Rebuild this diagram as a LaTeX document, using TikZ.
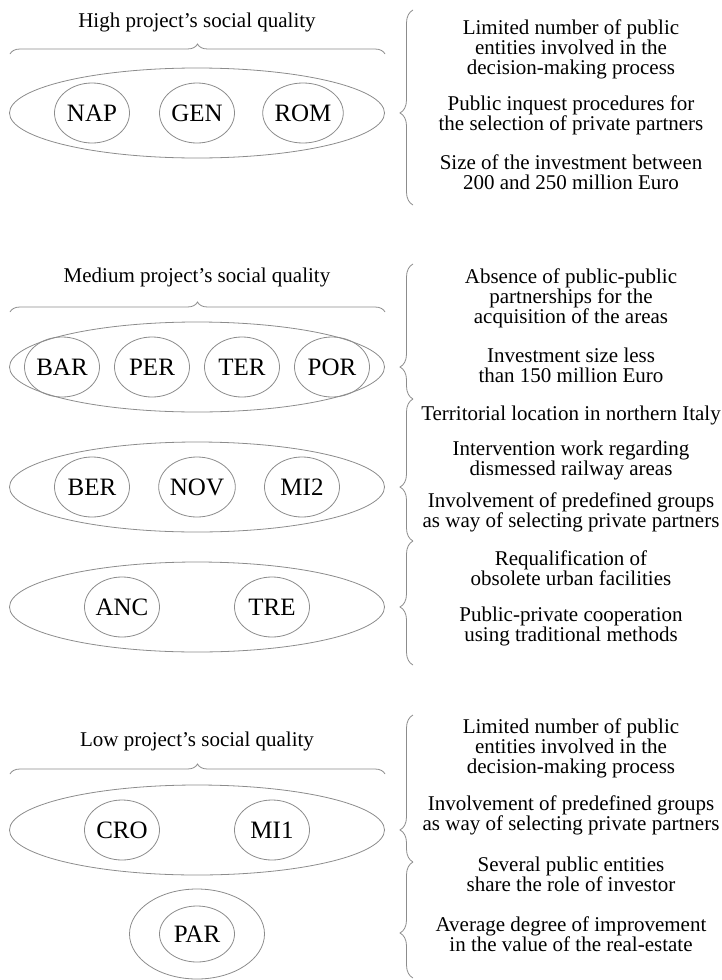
\documentclass[tikz,border=0pt]{standalone}
\usepackage{fontspec}
\setmainfont{Liberation Serif}
\usetikzlibrary{shapes.geometric, decorations.pathreplacing, positioning}

\begin{document}
\begin{tikzpicture}[x=1pt, y=-1pt,
  thinline/.style={draw=black!45, line width=0.8pt},
  bigring/.style={thinline, ellipse, minimum width=375pt, minimum height=90pt, inner sep=0pt},
  city/.style={thinline, ellipse, minimum width=75pt, minimum height=60pt, inner sep=0pt,
    font=\fontsize{25}{25}\selectfont},
  crit/.style={align=center, font=\fontsize{21}{20}\selectfont, inner sep=0pt},
  title/.style={font=\fontsize{21}{20}\selectfont, inner sep=0pt},
  topbrace/.style={thinline, decorate, decoration={brace, amplitude=10pt}},
  sidebrace/.style={thinline, decorate, decoration={brace, amplitude=13pt, aspect=#1}}]
  \useasboundingbox (0,0) rectangle (722,980);

  % --- HIGH ---
  \node[title] (hightitle) at (197,22) {High project's social quality};
  \coordinate (highl) at (10,54);  \coordinate (highr) at (385,54);
  \draw[topbrace] (highl) -- (highr);
  \node[bigring] (high) at (197,113) {};
  \foreach \name/\x in {NAP/92, GEN/197, ROM/303}
    \node[city] (\name) at (\x,113) {\name};

  \coordinate (hightop) at (413,10);  \coordinate (highbot) at (413,205);
  \draw[sidebrace=0.472] (highbot) -- (hightop);
  \node[crit] (hc1) at (571,49) {Limited number of public\\entities involved in the\\decision-making process};
  \node[crit] (hc2) at (571,115) {Public inquest procedures for\\the selection of private partners};
  \node[crit] (hc3) at (571,172) {Size of the investment between\\200 and 250 million Euro};

  % --- MEDIUM ---
  \node[title] (medtitle) at (197,277) {Medium project's social quality};
  \coordinate (medl) at (10,312);  \coordinate (medr) at (385,312);
  \draw[topbrace] (medl) -- (medr);
  \node[bigring] (med1) at (197,367) {};
  \node[bigring] (med2) at (197,487) {};
  \node[bigring] (med3) at (197,607) {};
  \foreach \name/\x in {BAR/62, PER/152, TER/242, POR/332}
    \node[city] (\name) at (\x,367) {\name};
  \foreach \name/\x in {BER/92, NOV/197, MI2/302}
    \node[city] (\name) at (\x,487) {\name};
  \foreach \name/\x in {ANC/122, TRE/272}
    \node[city] (\name) at (\x,607) {\name};

  \coordinate (medtop) at (413,264);  \coordinate (medj1) at (413,399);
  \coordinate (medj2) at (413,541);   \coordinate (medbot) at (413,665);
  \draw[sidebrace=0.237] (medj1) -- (medtop);
  \draw[sidebrace=0.380] (medj2) -- (medj1);
  \draw[sidebrace=0.468] (medbot) -- (medj2);
  \node[crit] (mc1) at (571,298) {Absence of public-public\\partnerships for the\\acquisition of the areas};
  \node[crit] (mc2) at (571,365) {Investment size less\\than 150 million Euro};
  \node[crit] (mc3) at (571,415) {Territorial location in northern Italy};
  \node[crit] (mc4) at (571,460) {Intervention work regarding\\dismessed railway areas};
  \node[crit] (mc5) at (571,512) {Involvement of predefined groups\\as way of selecting private partners};
  \node[crit] (mc6) at (571,568) {Requalification of\\obsolete urban facilities};
  \node[crit] (mc7) at (571,626) {Public-private cooperation\\using traditional methods};

  % --- LOW ---
  \node[title] (lowtitle) at (197,741) {Low project's social quality};
  \coordinate (lowl) at (10,774);  \coordinate (lowr) at (385,774);
  \draw[topbrace] (lowl) -- (lowr);
  \node[bigring] (low) at (197,830) {};
  \foreach \name/\x in {CRO/122, MI1/272}
    \node[city] (\name) at (\x,830) {\name};
  \node[thinline, ellipse, minimum width=135pt, minimum height=90pt] (parring) at (197,934) {};
  \node[city, minimum height=56pt] (PAR) at (parring) {PAR};

  \coordinate (lowtop) at (413,715);  \coordinate (lowj) at (413,862);
  \coordinate (lowbot) at (413,978);
  \draw[sidebrace=0.218] (lowj) -- (lowtop);
  \draw[sidebrace=0.388] (lowbot) -- (lowj);
  \node[crit] (lc1) at (571,748) {Limited number of public\\entities involved in the\\decision-making process};
  \node[crit] (lc2) at (571,815) {Involvement of predefined groups\\as way of selecting private partners};
  \node[crit] (lc3) at (571,874) {Several public entities\\share the role of investor};
  \node[crit] (lc4) at (571,934) {Average degree of improvement\\in the value of the real-estate};
\end{tikzpicture}
\end{document}
